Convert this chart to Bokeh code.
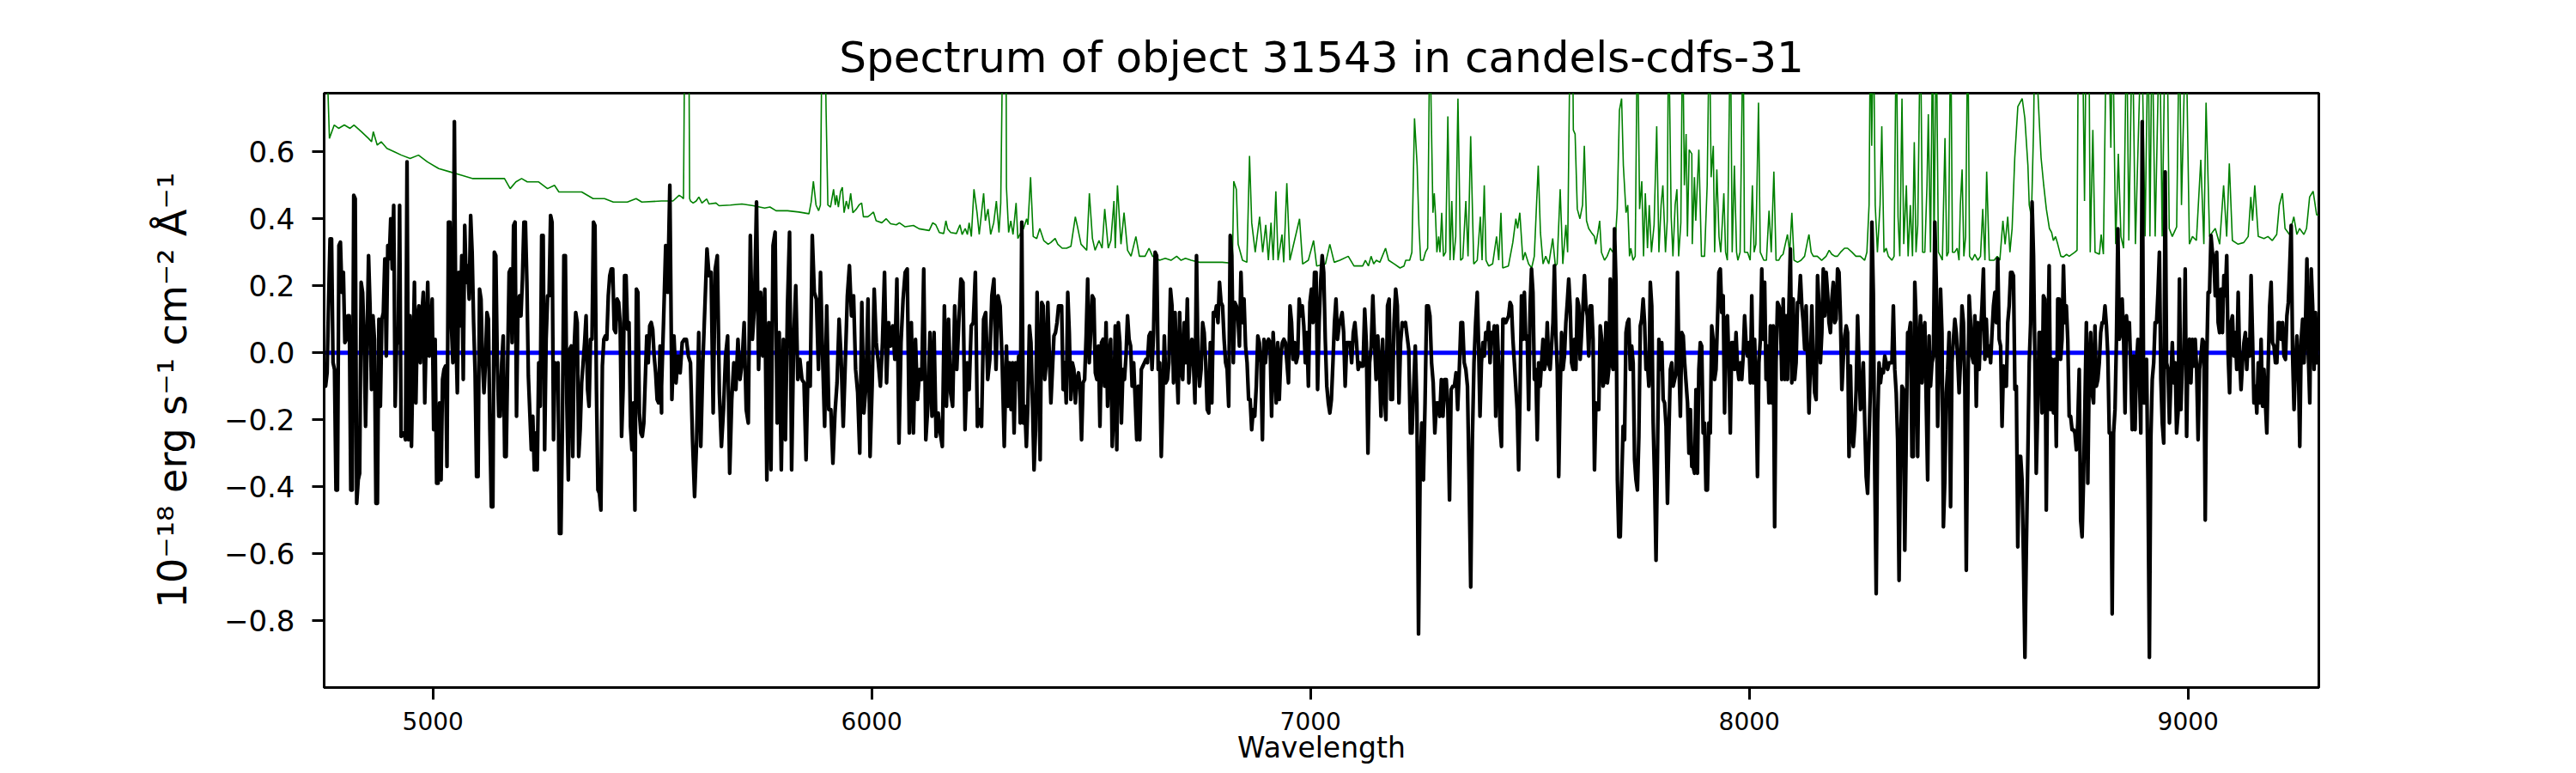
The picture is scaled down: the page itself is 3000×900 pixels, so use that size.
import numpy as np
from bokeh.plotting import figure
from bokeh.models import Range1d, FixedTicker, CustomJSTickFormatter, Title
from bokeh.embed import file_html
from bokeh.resources import INLINE

TITLE = "Spectrum of object 31543 in candels-cdfs-31"
X_LABEL = "Wavelength"
Y_LABEL = "10\u207b\u00b9\u2078 erg s\u207b\u00b9 cm\u207b\u00b2 \u00c5\u207b\u00b9"
X_TICKS = [5000, 6000, 7000, 8000, 9000]
Y_TICKS = [-0.8, -0.6, -0.4, -0.2, 0.0, 0.2, 0.4, 0.6]
WAVE_LIMITS = [4752, 9298]
FLUX_LIMITS = [-1.0, 0.775]

# observed spectrum (black), read in wavelength segments
SEG_START = [4752, 5521, 6307, 7090, 7383, 7872, 8654]
SEG_END = [5521, 6302, 7086, 7380, 7869, 8651, 9297]

FLUX_SEG1 = [-0.03,-0.10,-0.06,0.15,0.34,0.34,-0.03,-0.05,-0.41,-0.41,0.32,0.33,0.18,0.24,0.03,0.04,0.11,0.11,-0.41,-0.41,0.47,0.46,-0.45,-0.38,-0.36,0.21,0.18,0.04,-0.22,0.03,0.29,0.14,-0.11,0.11,0.04,-0.45,-0.45,0.10,-0.16,0.10,0.12,0.28,-0.01,0.32,0.28,0.40,0.25,0.44,-0.16,0.04,0.03,0.44,-0.25,-0.24,-0.24,-0.26,0.57,-0.26,0.11,-0.28,-0.03,0.21,-0.15,0.10,0.14,-0.03,0.11,0.18,-0.15,0.06,0.21,-0.01,0.06,0.16,-0.23,0.04,-0.39,-0.39,-0.15,-0.38,-0.08,-0.05,-0.04,-0.34,0.39,0.39,0.08,-0.03,0.69,0.06,-0.12,0.24,0.08,0.29,-0.08,0.38,0.21,0.26,0.16,0.41,0.30,0.09,-0.06,-0.37,-0.37,0.19,0.16,-0.03,-0.12,-0.03,0.12,0.10,-0.23,-0.46,-0.46,0.30,0.29,-0.03,-0.19,-0.19,-0.03,0.05,-0.31,-0.31,-0.03,0.24,0.25,0.03,0.38,0.39,-0.19,0.15,0.17,0.11,0.22,0.39,0.39,0.21,-0.07,-0.18,-0.29,-0.19,-0.35,-0.24,-0.35,-0.03,-0.16,0.35,0.35,-0.29,0.04,0.17,0.17,0.41,0.39,-0.26,-0.03,-0.08,-0.03,-0.54,-0.54,-0.22,0.29,0.29,-0.15,-0.38,0.01,0.02,-0.31,0.02,0.12,0.09,-0.31,-0.23,-0.09,-0.03,0.03,0.11,-0.11,-0.16,0.04,0.04,0.39,0.38,-0.11,-0.41,-0.42,-0.47,-0.04,0.04,0.05,0.04,0.17,0.23,0.25,0.25,0.07,0.06,0.16,0.15,0.09,-0.25,-0.11,0.23,0.23,0.07,0.09,-0.22,-0.29,-0.15,-0.47,0.19,0.18,-0.18,-0.24,-0.25,-0.21,-0.08,0.05,-0.03,0.08,0.09,0.07,-0.01,-0.06,-0.14,-0.15,0.02,-0.18]
FLUX_SEG2 = [-0.10,0.10,0.32,0.18,0.50,-0.14,0.05,-0.09,-0.01,-0.06,0.03,0.04,0.04,-0.01,-0.03,-0.26,-0.43,-0.26,0.06,-0.28,-0.03,0.14,0.31,0.23,0.24,-0.18,0.25,0.29,-0.12,-0.28,-0.17,-0.01,0.05,-0.36,-0.14,-0.03,-0.11,0.04,-0.08,-0.03,0.09,-0.17,-0.21,0.35,0.04,0.14,0.45,-0.05,0.18,-0.01,0.19,-0.38,0.09,-0.35,0.32,0.36,-0.21,0.06,-0.35,0.04,-0.26,0.14,0.36,-0.35,0.04,0.20,-0.08,-0.02,-0.08,-0.09,-0.32,-0.03,-0.10,0.35,0.18,0.16,-0.05,0.24,-0.01,-0.22,0.14,-0.17,-0.17,-0.33,-0.18,-0.09,0.10,-0.02,-0.22,-0.03,0.17,0.26,0.11,0.17,-0.05,-0.12,-0.30,0.15,-0.18,-0.10,0.16,-0.31,-0.10,0.19,0.03,-0.03,-0.10,0.03,0.24,-0.09,0.09,0.02,0.08,-0.02,0.22,-0.27,0.03,0.16,0.24,0.25,-0.24,0.09,-0.24,0.04,-0.14,-0.05,-0.08,0.25,-0.26,-0.16,0.06,-0.19,0.06,-0.25,-0.18,-0.24,-0.28,0.14,-0.16,0.10,-0.12,-0.16,0.14,-0.05,0.09,0.22,0.21,-0.23,-0.03,-0.11,0.08,0.09,0.24,-0.22,-0.17,-0.22,0.10,0.12,-0.08,-0.02,0.17,0.22,-0.05,0.17,0.14,-0.03,-0.28]
FLUX_SEG3 = [0.02,-0.16,-0.03,-0.17,-0.03,-0.24,-0.03,-0.08,-0.01,-0.21,0.39,-0.21,-0.16,-0.28,-0.15,0.08,0.03,-0.15,-0.35,-0.23,0.18,-0.03,-0.32,0.15,0.14,-0.08,-0.03,0.15,-0.01,-0.15,-0.05,0.05,0.06,0.09,0.14,0.14,0.14,-0.11,-0.03,-0.15,0.18,0.06,-0.14,-0.03,-0.05,-0.15,-0.08,-0.06,-0.10,-0.26,-0.09,-0.08,0.05,0.22,-0.03,0.06,0.17,0.16,-0.06,-0.08,0.02,-0.22,0.03,0.04,-0.10,0.09,-0.16,-0.01,0.04,-0.28,-0.17,0.08,-0.29,0.09,0.03,-0.21,-0.05,-0.08,-0.01,0.11,0.04,0.02,-0.10,-0.03,-0.14,-0.26,-0.10,-0.26,-0.05,-0.04,-0.03,-0.02,-0.03,0.05,0.06,-0.05,0.06,0.30,0.29,-0.05,-0.03,-0.31,-0.15,0.05,-0.09,-0.08,-0.03,0.19,0.14,-0.09,0.12,-0.03,-0.15,0.12,-0.05,-0.08,0.09,-0.03,0.16,-0.09,-0.01,0.04,-0.03,-0.15,0.29,-0.03,-0.10,-0.05,0.09,0.06,-0.03,-0.17,-0.18,0.03,-0.15,0.12,0.11,0.14,0.09,0.21,0.15,0.14,0.04,-0.03,-0.05,-0.16,0.35,0.29,-0.03,0.15,0.14,0.11,0.02,0.24,0.09,0.16,0.02,-0.03,-0.14,-0.14,-0.23,-0.17,-0.19,-0.10,0.05,0.03,-0.03,-0.26,0.04,-0.03,0.03,0.04,0.03,-0.19,0.06,-0.03,-0.15,0.03,-0.14,-0.01,0.03,0.04,0.03,-0.03,-0.09,0.14,0.09,-0.02,0.03,-0.03,-0.01,0.16,0.11,0.14,0.08,-0.03,0.06,-0.10,0.15,0.19,0.09,0.24,0.24,-0.11,0.09,0.21,0.29,0.24,0.04,-0.10,-0.15,-0.18,-0.14,-0.03,0.09,0.16,0.04,0.08,0.10,0.12,0.06,-0.10,0.03,0.03]
FLUX_SEG4 = [0.03,-0.03,0.06,0.09,0.03,-0.05,-0.03,-0.04,-0.04,0.13,0.03,-0.30,-0.03,0.02,0.17,0.04,-0.08,0.05,-0.03,-0.19,0.04,-0.12,-0.20,0.14,0.16,-0.14,-0.14,0.09,0.19,0.14,-0.15,0.03,0.09,0.08,0.09,0.05,0.01,-0.24,-0.24,-0.11,0.02,-0.15,-0.84,-0.34,-0.21,-0.38,-0.15,0.14,0.14,0.11,-0.03,-0.09,-0.24,-0.15,-0.15,-0.19,-0.08,-0.19,-0.08,-0.08,-0.17,-0.44,-0.11,-0.10,-0.10,-0.06,-0.17,-0.05,0.09,0.09,-0.03,-0.05,-0.10,-0.38,-0.70,-0.26,-0.03,0.09,0.18]
FLUX_SEG5 = [0.03,-0.19,-0.03,0.03,-0.01,0.06,0.04,0.09,-0.03,0.06,0.04,0.08,-0.19,0.08,-0.03,-0.22,-0.28,0.10,0.10,0.09,0.10,0.11,0.15,0.14,0.04,-0.03,-0.10,-0.17,-0.35,-0.12,0.17,0.04,0.18,0.04,0.05,-0.17,0.14,0.25,0.18,-0.08,-0.05,-0.26,-0.03,-0.10,-0.03,0.04,-0.05,-0.03,0.09,-0.03,-0.05,0.02,0.09,0.26,0.06,-0.05,-0.37,-0.12,0.06,-0.05,-0.01,0.09,0.15,0.22,0.14,-0.03,-0.05,0.04,-0.05,0.16,0.14,-0.02,0.06,0.14,0.23,0.14,0.11,-0.01,0.14,0.14,0.04,-0.35,-0.15,-0.17,-0.17,0.08,0.04,-0.10,-0.08,0.09,-0.09,-0.05,0.22,-0.03,-0.05,0.37,0.21,-0.38,-0.55,-0.55,-0.38,-0.22,-0.26,0.06,0.09,0.10,-0.05,0.02,-0.03,-0.32,-0.38,-0.41,-0.25,0.08,0.10,0.16,0.09,-0.05,-0.03,-0.10,0.21,0.14,-0.21,-0.38,-0.62,-0.31,0.04,-0.05,0.03,-0.14,-0.15,-0.22,-0.45,-0.24,-0.05,-0.03,-0.10,-0.08,-0.06,0.24,-0.03,-0.19,0.06,0.05,-0.03,-0.09,-0.15,-0.30,-0.17,-0.34]
FLUX_SEG6 = [-0.34,-0.36,-0.11,-0.36,-0.05,0.03,0.02,-0.24,-0.21,-0.41,-0.41,-0.21,-0.24,0.08,0.04,-0.08,-0.05,0.09,0.24,0.25,0.12,0.17,-0.18,0.10,0.11,-0.03,-0.24,0.03,0.03,-0.05,0.06,-0.04,-0.08,-0.03,-0.08,-0.01,0.11,0.03,-0.01,0.03,-0.09,0.17,-0.09,0.04,-0.10,-0.37,-0.03,0.04,0.25,0.04,0.21,-0.08,0.02,-0.15,0.08,-0.15,0.08,-0.52,-0.03,0.15,0.14,0.12,-0.08,0.16,-0.08,0.11,-0.08,0.14,0.31,-0.09,0.16,-0.08,-0.03,0.15,0.15,0.23,0.14,0.09,0.01,0.14,-0.01,-0.18,-0.03,0.14,-0.03,-0.12,-0.14,0.23,0.14,-0.03,0.06,0.25,0.11,0.24,0.18,0.09,0.06,0.16,0.21,0.09,0.10,0.25,0.24,0.11,-0.11,-0.02,0.05,0.08,0.06,-0.31,-0.04,-0.24,-0.28,-0.22,-0.11,0.11,-0.03,-0.17,-0.14,-0.03,-0.21,-0.37,-0.42,-0.26,-0.10,0.39,0.18,-0.36,-0.72,-0.21,-0.03,-0.09,-0.05,-0.06,-0.01,-0.03,-0.05,-0.03,-0.03,-0.03,0.14,-0.05,-0.12,-0.26,-0.68,-0.30,-0.10,-0.11,-0.59,-0.26,0.06,0.06,0.09,-0.31,-0.31,0.21,0.09,-0.31,0.02,0.11,-0.09,0.06,0.09,-0.15,-0.38,0.05,-0.10,-0.03,-0.01,0.39,0.21,-0.22,-0.03,0.19,0.06,-0.52,-0.38,-0.12,-0.05,0.06,-0.46,-0.03,0.04,0.10,0.06,-0.02,-0.12,-0.02,0.14,0.09,-0.10,-0.65,-0.17,0.17,0.09,-0.01,-0.03,0.11,-0.16,0.09,-0.05,0.06,0.14,0.25,-0.02,0.10,-0.01,0.02,-0.03,0.06,0.14,0.18,0.09,0.28,0.04,0.02,-0.22,-0.04,-0.10,-0.10,0.09,0.14,0.24,0.24,0.23,-0.11,-0.10,-0.58,-0.31,-0.31,-0.38,-0.62,-0.91,-0.58,-0.32,-0.03,0.09,0.45,0.29,-0.03]
FLUX_SEG7 = [-0.36,-0.17,0.06,0.06,-0.18,0.17,0.16,-0.47,-0.03,0.26,-0.17,-0.02,-0.18,-0.02,-0.28,0.16,0.16,-0.02,0.04,0.26,0.09,0.14,0.04,-0.19,-0.19,-0.23,-0.23,-0.24,-0.29,-0.21,-0.05,-0.50,-0.55,-0.38,-0.15,0.09,-0.39,-0.05,0.06,-0.12,-0.15,0.08,-0.10,-0.08,-0.03,0.06,0.09,0.09,0.14,0.08,-0.01,-0.24,-0.24,-0.78,-0.24,-0.17,0.04,0.37,0.04,0.06,0.16,0.04,-0.18,0.11,0.04,0.09,-0.05,-0.23,-0.01,-0.23,-0.03,0.04,-0.06,-0.24,0.69,-0.15,-0.15,-0.02,-0.38,-0.91,-0.26,-0.08,-0.03,0.09,0.09,0.18,0.30,-0.08,-0.21,-0.27,0.54,-0.03,-0.05,-0.21,-0.08,0.03,-0.09,-0.03,-0.24,-0.18,0.22,-0.17,-0.03,-0.03,0.25,-0.25,0.03,0.04,-0.09,0.04,-0.04,0.04,-0.05,-0.26,-0.05,-0.01,0.04,0.03,-0.50,-0.03,0.18,0.18,0.35,0.30,0.28,0.17,0.30,0.09,0.06,0.19,0.06,0.23,0.17,0.29,-0.01,-0.12,0.09,0.11,-0.01,0.06,-0.05,0.18,-0.02,-0.11,-0.03,0.03,0.06,-0.05,0.04,-0.01,0.23,0.05,-0.15,-0.10,-0.18,-0.03,-0.15,0.04,-0.16,-0.05,-0.15,-0.24,-0.03,0.14,0.21,0.03,0.02,-0.03,-0.03,0.09,0.09,0.04,0.09,-0.01,-0.02,0.11,0.15,0.26,0.38,-0.01,-0.17,-0.03,0.05,-0.03,-0.28,0.04,0.10,-0.03,0.09,0.28,-0.01,-0.15,0.25,0.14,-0.05,0.12,-0.03,0.09]
BLACK_FLUX = [FLUX_SEG1, FLUX_SEG2, FLUX_SEG3, FLUX_SEG4, FLUX_SEG5, FLUX_SEG6, FLUX_SEG7]

# sky / error spectrum (green): (wavelength, flux) pairs
GREEN_1 = [(4752,1.0),(4759,0.85),(4764,0.64),(4775,0.68),(4785,0.67),(4798,0.68),(4811,0.67),(4820,0.68),(4837,0.66),(4853,0.64),(4860,0.63),(4864,0.66),(4873,0.62),(4882,0.63),(4895,0.61),(4912,0.60),(4928,0.59),(4948,0.58),(4967,0.59),(4987,0.57),(5013,0.55),(5039,0.54),(5065,0.53),(5091,0.52),(5117,0.52),(5143,0.52),(5163,0.52),(5176,0.49),(5189,0.51),(5202,0.52),(5215,0.51),(5241,0.51),(5261,0.49),(5277,0.50),(5287,0.48),(5313,0.48),(5339,0.48),(5365,0.46),(5391,0.46),(5411,0.45),(5443,0.45),(5463,0.46),(5476,0.45)]
GREEN_2 = [(5521,0.453),(5547,0.453),(5561,0.47),(5567,0.465),(5571,0.46),(5574,1.0),(5583,1.0),(5585,0.46),(5587,0.453),(5593,0.447),(5600,0.453),(5606,0.465),(5613,0.447),(5624,0.459),(5629,0.444),(5645,0.447),(5652,0.439),(5678,0.441),(5704,0.444),(5730,0.439),(5756,0.432),(5768,0.435),(5782,0.424),(5808,0.424),(5834,0.42),(5857,0.415),(5862,0.45),(5867,0.512),(5873,0.441),(5879,0.424),(5883,0.441),(5887,1.0),(5893,1.0),(5896,0.72),(5900,0.441),(5906,0.435),(5913,0.488),(5917,0.441),(5920,0.47),(5924,0.435),(5929,0.482),(5933,0.494),(5937,0.418),(5942,0.453),(5947,0.429),(5952,0.476),(5957,0.418),(5965,0.429),(5971,0.441),(5977,0.447),(5981,0.406),(5991,0.406),(5997,0.412),(6004,0.42),(6010,0.394),(6023,0.388),(6033,0.40),(6043,0.385),(6056,0.382),(6063,0.388),(6076,0.376),(6095,0.38),(6108,0.37),(6131,0.365),(6139,0.388),(6146,0.382),(6154,0.359),(6164,0.356),(6169,0.394),(6173,0.37),(6180,0.359),(6193,0.356),(6201,0.382),(6206,0.353),(6213,0.371),(6218,0.353),(6222,0.388),(6227,0.347),(6233,0.488),(6240,0.418),(6245,0.353),(6255,0.476),(6259,0.394),(6265,0.429),(6271,0.353),(6278,0.388),(6284,0.453),(6290,0.359),(6294,0.447),(6299,1.0),(6303,1.0)]
GREEN_3 = [(6306,1.0),(6307,0.494),(6312,0.359),(6317,0.394),(6322,0.353),(6329,0.447),(6333,0.341),(6340,0.359),(6346,0.371),(6353,0.40),(6356,0.382),(6362,0.524),(6368,0.347),(6376,0.341),(6383,0.371),(6392,0.335),(6402,0.324),(6408,0.329),(6418,0.341),(6424,0.324),(6434,0.312),(6444,0.312),(6454,0.318),(6464,0.406),(6468,0.382),(6477,0.324),(6490,0.306),(6496,0.476),(6503,0.341),(6509,0.306),(6518,0.335),(6525,0.312),(6531,0.429),(6539,0.312),(6545,0.335),(6552,0.453),(6555,0.312),(6560,0.50),(6568,0.324),(6575,0.418),(6583,0.306),(6591,0.288),(6602,0.347),(6610,0.288),(6623,0.288),(6632,0.312),(6640,0.288),(6656,0.276),(6669,0.282),(6682,0.276),(6695,0.288),(6705,0.276),(6715,0.282),(6728,0.276),(6747,0.27),(6773,0.27),(6799,0.27),(6822,0.267),(6825,0.512),(6831,0.488),(6835,0.324),(6845,0.276),(6855,0.27),(6861,0.588),(6866,0.388),(6874,0.30),(6884,0.406),(6891,0.30),(6898,0.382),(6904,0.276),(6910,0.388),(6915,0.276),(6921,0.482),(6926,0.276),(6935,0.353),(6939,0.27),(6946,0.506),(6953,0.276),(6975,0.40),(6982,0.265),(6995,0.276),(7007,0.335),(7014,0.259),(7034,0.265),(7044,0.324),(7054,0.27),(7067,0.276),(7086,0.288)]
GREEN_4 = [(7099,0.259),(7119,0.259),(7125,0.276),(7132,0.259),(7138,0.288),(7144,0.265),(7150,0.276),(7158,0.27),(7171,0.312),(7178,0.276),(7191,0.265),(7204,0.253),(7213,0.259),(7217,0.276),(7226,0.276),(7231,0.30),(7237,0.70),(7243,0.559),(7247,0.382),(7251,0.276),(7257,0.276),(7262,0.30),(7267,0.312),(7272,1.0),(7275,0.724),(7279,0.418),(7282,0.476),(7285,0.406),(7288,0.30),(7292,0.347),(7295,0.30),(7299,0.418),(7303,0.288),(7308,0.30),(7313,0.706),(7318,0.276),(7322,0.453),(7326,0.276),(7331,0.347),(7336,0.759),(7342,0.276),(7347,0.282),(7354,0.453),(7359,0.288),(7365,0.647),(7372,0.265),(7380,0.276),(7387,0.406),(7391,0.276),(7396,0.50),(7400,0.276),(7406,0.259),(7415,0.265),(7424,0.347),(7429,0.276),(7434,0.418),(7438,0.253),(7451,0.259),(7461,0.329),(7468,0.40),(7472,0.371),(7477,0.418),(7484,0.276),(7489,0.30),(7497,0.265),(7504,0.253),(7510,0.288),(7519,0.559),(7524,0.359),(7530,0.265),(7536,0.288),(7543,0.265),(7552,0.341),(7558,0.259),(7562,0.265),(7569,0.488),(7575,0.265),(7582,0.382),(7586,0.30),(7592,1.0),(7597,1.0),(7599,0.665),(7603,0.653),(7608,0.429),(7614,0.40),(7620,0.441),(7624,0.618),(7629,0.394),(7634,0.371),(7640,0.359),(7647,0.347),(7650,0.324),(7655,0.359),(7659,0.394),(7663,0.30),(7670,0.276),(7676,0.288),(7683,0.312),(7689,0.30),(7694,0.324),(7699,0.429),(7704,0.724),(7709,0.759),(7713,0.559),(7719,0.418),(7723,0.441),(7727,0.288),(7730,0.312),(7735,0.276),(7740,0.288),(7745,1.0),(7750,0.429),(7755,0.512),(7759,0.288),(7763,0.476),(7768,0.312),(7772,0.441),(7777,0.30),(7783,0.382),(7789,0.676),(7794,0.30),(7799,0.441),(7803,0.50),(7809,0.30),(7813,0.394),(7816,1.0),(7822,0.406),(7826,0.288),(7831,0.441),(7835,0.488),(7839,0.288),(7844,0.388),(7848,1.0),(7852,0.50),(7856,0.653),(7859,0.347),(7863,0.606),(7869,0.594)]
GREEN_5 = [(7870,0.324),(7875,0.524),(7878,0.394),(7885,0.606),(7891,0.288),(7898,0.288),(7904,0.50),(7909,1.0),(7913,0.524),(7918,0.618),(7921,0.30),(7926,0.547),(7931,0.347),(7935,0.30),(7942,0.476),(7946,0.30),(7950,0.276),(7957,1.0),(7961,0.30),(7966,0.559),(7971,0.30),(7974,0.276),(7979,0.30),(7986,1.0),(7989,0.30),(7996,0.30),(8002,0.276),(8007,0.50),(8011,0.30),(8015,0.324),(8021,0.747),(8025,0.30),(8033,0.276),(8039,0.276),(8045,0.424),(8050,0.30),(8056,0.541),(8061,0.276),(8067,0.276),(8072,0.288),(8077,0.294),(8082,0.324),(8087,0.353),(8092,0.30),(8097,0.418),(8102,0.276),(8110,0.27),(8118,0.276),(8126,0.288),(8133,0.335),(8136,0.353),(8141,0.30),(8146,0.288),(8155,0.288),(8165,0.276),(8175,0.288),(8182,0.306),(8188,0.294),(8195,0.288),(8201,0.288),(8208,0.30),(8217,0.312),(8224,0.312),(8234,0.30),(8243,0.288),(8253,0.288),(8263,0.276),(8268,0.30),(8273,0.441),(8276,1.0),(8279,0.618),(8283,1.0),(8287,0.441),(8292,0.30),(8298,0.441),(8302,0.676),(8307,0.30),(8312,0.312),(8317,0.288),(8325,0.276),(8330,0.288),(8335,1.0),(8339,0.406),(8343,0.288),(8348,0.759),(8352,0.324),(8358,0.50),(8362,0.288),(8367,0.441),(8372,0.288),(8376,0.629),(8380,0.30),(8384,0.382),(8390,1.0),(8395,0.30),(8400,0.30),(8405,0.50),(8408,0.712),(8413,0.30),(8418,1.0),(8421,0.30),(8426,1.0),(8431,0.30),(8436,0.288),(8440,0.276),(8446,0.641),(8450,0.288),(8454,0.30),(8459,1.0),(8463,0.30),(8468,0.30),(8474,0.312),(8478,0.276),(8481,0.441),(8485,0.547),(8489,0.288),(8493,0.347),(8498,1.0),(8502,0.288),(8508,0.276),(8514,0.294),(8521,0.276),(8527,0.288),(8532,0.429),(8537,0.276),(8541,0.541),(8547,0.276),(8552,0.276),(8558,0.276),(8565,0.288),(8571,0.276),(8578,0.394),(8583,0.324),(8589,0.406),(8594,0.30),(8599,0.371),(8605,0.582),(8612,0.735),(8622,0.759),(8628,0.70),(8635,0.559),(8638,0.441),(8643,0.406),(8648,0.676),(8651,1.0)]
GREEN_6 = [(8654,1.0),(8658,0.77),(8661,0.688),(8665,0.582),(8671,0.50),(8677,0.429),(8684,0.371),(8689,0.359),(8693,0.335),(8698,0.347),(8703,0.324),(8710,0.288),(8716,0.286),(8723,0.294),(8729,0.288),(8742,0.30),(8747,0.306),(8750,1.0),(8759,1.0),(8764,0.453),(8768,1.0),(8774,1.0),(8777,0.30),(8783,0.665),(8788,0.30),(8798,0.294),(8802,0.353),(8807,0.294),(8814,1.0),(8819,1.0),(8824,0.612),(8828,1.0),(8835,0.324),(8841,0.594),(8847,0.347),(8853,0.312),(8860,1.0),(8865,0.335),(8873,1.0),(8880,0.324),(8894,1.0),(8902,0.347),(8909,1.0),(8913,0.347),(8918,1.0),(8925,0.347),(8935,1.0),(8941,0.347),(8948,1.0),(8952,1.0),(8957,0.371),(8964,0.347),(8974,0.376),(8980,1.0),(8985,0.441),(8995,1.0),(9003,0.324),(9010,0.347),(9019,0.335),(9029,0.576),(9036,0.324),(9041,0.747),(9049,0.347),(9055,0.359),(9062,0.371),(9072,0.324),(9081,0.50),(9088,0.347),(9094,0.565),(9101,0.335),(9114,0.324),(9127,0.329),(9137,0.347),(9143,0.465),(9147,0.394),(9152,0.50),(9160,0.347),(9173,0.341),(9182,0.347),(9192,0.335),(9202,0.353),(9208,0.441),(9215,0.476),(9221,0.371),(9231,0.353),(9241,0.406),(9248,0.353),(9254,0.371),(9264,0.353),(9270,0.371),(9277,0.465),(9285,0.482),(9293,0.412),(9297,0.41)]
GREEN_PARTS = [GREEN_1, GREEN_2, GREEN_3, GREEN_4, GREEN_5, GREEN_6]

# zero level (blue)
BLUE_WAVE = [4752, 9298]
BLUE_FLUX = [0.0, 0.0]

black_wave = np.concatenate([np.linspace(s, e, len(f)) for s, e, f in zip(SEG_START, SEG_END, BLACK_FLUX)])
black_flux = np.concatenate([np.asarray(f, dtype=float) for f in BLACK_FLUX])
green_pts = [pt for part in GREEN_PARTS for pt in part]
green_wave = [pt[0] for pt in green_pts]
green_flux = [pt[1] for pt in green_pts]

# layout (pixels): frame occupies x 377..2700, y 108..800
FRAME_L, FRAME_T, FRAME_W, FRAME_H = 377, 108, 2323, 692
FIG_W, FIG_H = 2984, 896

p = figure(width=FIG_W, height=FIG_H, output_backend="svg", toolbar_location=None,
           x_range=Range1d(*WAVE_LIMITS), y_range=Range1d(*FLUX_LIMITS),
           min_border_left=FRAME_L, min_border_right=FIG_W - FRAME_L - FRAME_W,
           min_border_top=FRAME_T, min_border_bottom=FIG_H - FRAME_T - FRAME_H)
p.background_fill_color = "white"
p.border_fill_color = "white"
p.xgrid.visible = False
p.ygrid.visible = False
p.outline_line_color = "black"
p.outline_line_width = 3
p.outline_line_alpha = 1.0

# thin empty spacer first (closest to the frame), then the real title above it
spacer = Title(text=" ", text_font_size="5px", align="center", standoff=0)
p.add_layout(spacer, "above")
main_title = Title(text=TITLE, align="center", text_font="DejaVu Sans",
                   text_font_size="50px", text_font_style="normal", text_color="black")
p.add_layout(main_title, "above")

for ax in (p.xaxis[0], p.yaxis[0]):
    ax.axis_line_color = "black"
    ax.axis_line_width = 3
    ax.major_tick_line_color = "black"
    ax.major_tick_line_width = 3
    ax.major_tick_out = 14
    ax.major_tick_in = 0
    ax.minor_tick_out = 0
    ax.minor_tick_in = 0
    ax.major_label_text_font = "DejaVu Sans"
    ax.major_label_text_color = "black"
    ax.axis_label_text_font = "DejaVu Sans"
    ax.axis_label_text_font_style = "normal"
    ax.axis_label_text_color = "black"

p.xaxis.ticker = FixedTicker(ticks=X_TICKS)
p.xaxis.formatter = CustomJSTickFormatter(code="return tick.toFixed(0);")
p.xaxis.major_label_text_font_size = "28px"
p.xaxis.major_label_standoff = 14
p.xaxis.axis_label = X_LABEL
p.xaxis.axis_label_text_font_size = "33px"
p.xaxis.axis_label_standoff = -2

p.yaxis.ticker = FixedTicker(ticks=Y_TICKS)
p.yaxis.formatter = CustomJSTickFormatter(
    code="return (tick < -1e-9 ? '\\u2212' : '') + Math.abs(tick).toFixed(1);")
p.yaxis.major_label_text_font_size = "34px"
p.yaxis.major_label_standoff = 20
p.yaxis.axis_label = Y_LABEL
p.yaxis.axis_label_text_font_size = "46px"
p.yaxis.axis_label_standoff = 30

p.line(x=green_wave, y=green_flux, line_color="#008000", line_width=1.6)
p.line(x=BLUE_WAVE, y=BLUE_FLUX, line_color="#0000ff", line_width=5)
p.line(x=black_wave, y=black_flux, line_color="black", line_width=4.3, line_join="round")

open("out.html", "w").write(file_html(p, INLINE))
